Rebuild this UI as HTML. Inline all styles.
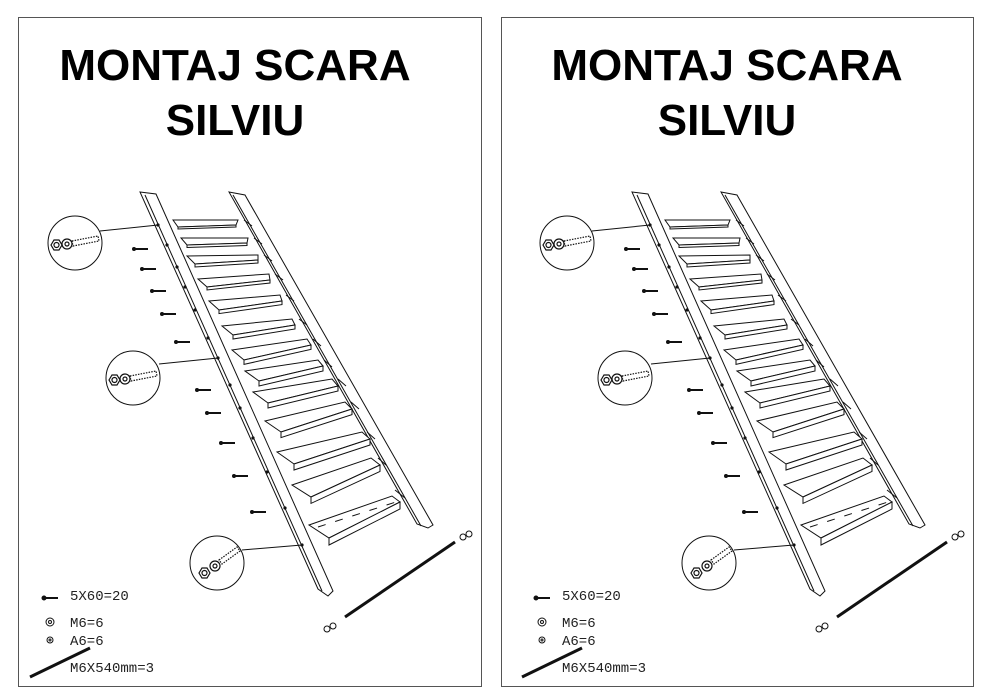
<!DOCTYPE html>
<html><head><meta charset="utf-8"><style>
html,body{margin:0;padding:0;background:#fff;width:988px;height:700px;overflow:hidden}
svg{display:block}
.t{font-family:"Liberation Sans",Arial,sans-serif;font-weight:bold;font-size:44px;fill:#000}
.l{font-family:"Liberation Mono",monospace;font-size:14px;fill:#222}
</style></head><body>
<svg width="988" height="700" viewBox="0 0 988 700" xmlns="http://www.w3.org/2000/svg">
<defs>
<g id="p" fill="none" stroke="#111" stroke-width="1">
<!-- stringers -->
<polygon points="140,192 156,194 333,591 328,596 318,589" fill="#fff"/>
<line x1="145" y1="195" x2="322" y2="591"/>
<polygon points="229,192 245,195 433,525 428,528 417,524" fill="#fff"/>
<line x1="233" y1="195" x2="421" y2="526"/>
<!-- hatch on right stringer -->
<g stroke-width="1">
<line x1="244" y1="220" x2="252" y2="226"/><line x1="254" y1="238" x2="262" y2="244"/>
<line x1="264" y1="255" x2="272" y2="261"/><line x1="275" y1="274" x2="283" y2="280"/>
<line x1="286" y1="295" x2="294" y2="301"/><line x1="299" y1="319" x2="307" y2="325"/>
<line x1="313" y1="339" x2="321" y2="346"/><line x1="324" y1="360" x2="332" y2="367"/>
<line x1="338" y1="379" x2="346" y2="386"/><line x1="351" y1="402" x2="359" y2="409"/>
<line x1="367" y1="432" x2="375" y2="439"/><line x1="378" y1="458" x2="386" y2="465"/>
<line x1="395" y1="490" x2="405" y2="498"/>
</g>
<!-- treads -->
<g fill="#fff">
<polygon points="173,220 238,220 236,225 178,227"/><polygon points="178,227 236,225 236,227 178,229"/>
<polygon points="181,238 248,238 247,243 187,245"/><polygon points="187,245 247,243 247,245.5 187,247.5"/>
<polygon points="187,256 258,255 258,260 195,264"/><polygon points="195,264 258,260 258,263 195,267"/>
<polygon points="198,279 269,274 270,280 207,287"/><polygon points="207,287 270,280 270,283 207,290"/>
<polygon points="209,301 280,295 282,301 219,310"/><polygon points="219,310 282,301 282,304.6 219,313.6"/>
<polygon points="222,326 292,319 295,325 233,335"/><polygon points="233,335 295,325 295,329 233,339"/>
<polygon points="232,350 307,339 311,345 244,360"/><polygon points="244,360 311,345 311,349.4 244,364.4"/>
<polygon points="245,371 318,360 323,366 259,381"/><polygon points="259,381 323,366 323,371 259,386"/>
<polygon points="253,392 332,379 338,386 268,403"/><polygon points="268,403 338,386 338,391 268,408"/>
<polygon points="265,421 345,402 352,409 281,432"/><polygon points="281,432 352,409 352,414.6 281,437.6"/>
<polygon points="277,452 362,432 370,439 294,464"/><polygon points="294,464 370,439 370,445 294,470"/>
<polygon points="292,485 371,458 380,465 311,497"/><polygon points="311,497 380,465 380,471.4 311,503.4"/>
<polygon points="309,525 392,496 400,502 329,538"/><polygon points="329,538 400,502 400,509 329,545"/>
</g>
<line x1="318" y1="527" x2="396" y2="502" stroke-dasharray="8,10"/>
<!-- holes -->
<g fill="#111" stroke="none">
<circle cx="158" cy="225" r="1.6"/><circle cx="167" cy="245" r="1.6"/><circle cx="177" cy="267" r="1.6"/>
<circle cx="185" cy="287" r="1.6"/><circle cx="195" cy="310" r="1.6"/><circle cx="208" cy="338" r="1.6"/>
<circle cx="218" cy="358" r="1.6"/><circle cx="230" cy="385" r="1.6"/><circle cx="240" cy="408" r="1.6"/>
<circle cx="253" cy="438" r="1.6"/><circle cx="267" cy="472" r="1.6"/><circle cx="285" cy="508" r="1.6"/>
<circle cx="302" cy="545" r="1.6"/>
</g>
<!-- screws -->
<g stroke="#111" stroke-width="2">
<path d="M134,249 h14"/><path d="M142,269 h14"/><path d="M152,291 h14"/><path d="M162,314 h14"/>
<path d="M176,342 h14"/><path d="M197,390 h14"/><path d="M207,413 h14"/><path d="M221,443 h14"/>
<path d="M234,476 h14"/><path d="M252,512 h14"/>
</g>
<g fill="#111" stroke="none">
<circle cx="134" cy="249" r="2"/><circle cx="142" cy="269" r="2"/><circle cx="152" cy="291" r="2"/><circle cx="162" cy="314" r="2"/>
<circle cx="176" cy="342" r="2"/><circle cx="197" cy="390" r="2"/><circle cx="207" cy="413" r="2"/><circle cx="221" cy="443" r="2"/>
<circle cx="234" cy="476" r="2"/><circle cx="252" cy="512" r="2"/>
</g>
<!-- detail circles -->
<circle cx="75" cy="243" r="27"/><line x1="100" y1="231" x2="158" y2="225"/>
<circle cx="133" cy="378" r="27"/><line x1="159" y1="364" x2="218" y2="358"/>
<circle cx="217" cy="563" r="27"/><line x1="242" y1="550" x2="302" y2="545"/>
<g stroke-width="1.2">
<polygon points="51,245 54,240 59,240 62,245 59,250 54,250"/><circle cx="56.5" cy="245" r="2.5"/>
<circle cx="67" cy="244" r="5"/><circle cx="67" cy="244" r="2"/>
<path d="M72,241 L98,236 L99,241 L73,246 Z" stroke-dasharray="1.5,1.2"/>
<polygon points="109,380 112,375 117,375 120,380 117,385 112,385"/><circle cx="114.5" cy="380" r="2.5"/>
<circle cx="125" cy="379" r="5"/><circle cx="125" cy="379" r="2"/>
<path d="M130,376 L156,371 L157,376 L131,381 Z" stroke-dasharray="1.5,1.2"/>
<polygon points="199,573 202,568 207,568 210,573 207,578 202,578"/><circle cx="204.5" cy="573" r="2.5"/>
<circle cx="215" cy="566" r="5"/><circle cx="215" cy="566" r="2"/>
<path d="M219,560 L237,547 L240,551 L222,564 Z" stroke-dasharray="1.5,1.2"/>
</g>
<!-- rod and nuts -->
<line x1="345" y1="617" x2="455" y2="542" stroke-width="3"/>
<circle cx="463" cy="537" r="3"/><circle cx="469" cy="534" r="3"/>
<circle cx="327" cy="629" r="3"/><circle cx="333" cy="626" r="3"/>
<!-- legend icons -->
<path d="M44,598 h14" stroke-width="2"/><circle cx="44" cy="598" r="2" fill="#111"/>
<circle cx="50" cy="622" r="4"/><circle cx="50" cy="622" r="1.5"/>
<circle cx="50" cy="640" r="3"/><circle cx="50" cy="640" r="1"/>
<line x1="30" y1="677" x2="90" y2="648" stroke-width="3"/>
</g>
</defs>
<rect x="18.5" y="17.5" width="463" height="669" fill="none" stroke="#555" stroke-width="1"/>
<rect x="501.5" y="17.5" width="472" height="669" fill="none" stroke="#555" stroke-width="1"/>
<use href="#p"/>
<use href="#p" transform="translate(492,0)"/>
<text class="t" x="235" y="80" text-anchor="middle">MONTAJ SCARA</text>
<text class="t" x="235" y="135" text-anchor="middle">SILVIU</text>
<text class="t" x="727" y="80" text-anchor="middle">MONTAJ SCARA</text>
<text class="t" x="727" y="135" text-anchor="middle">SILVIU</text>
<text class="l" x="70" y="600">5X60=20</text>
<text class="l" x="70" y="627">M6=6</text>
<text class="l" x="70" y="645">A6=6</text>
<text class="l" x="70" y="672">M6X540mm=3</text>
<text class="l" x="562" y="600">5X60=20</text>
<text class="l" x="562" y="627">M6=6</text>
<text class="l" x="562" y="645">A6=6</text>
<text class="l" x="562" y="672">M6X540mm=3</text>
</svg>
</body></html>
